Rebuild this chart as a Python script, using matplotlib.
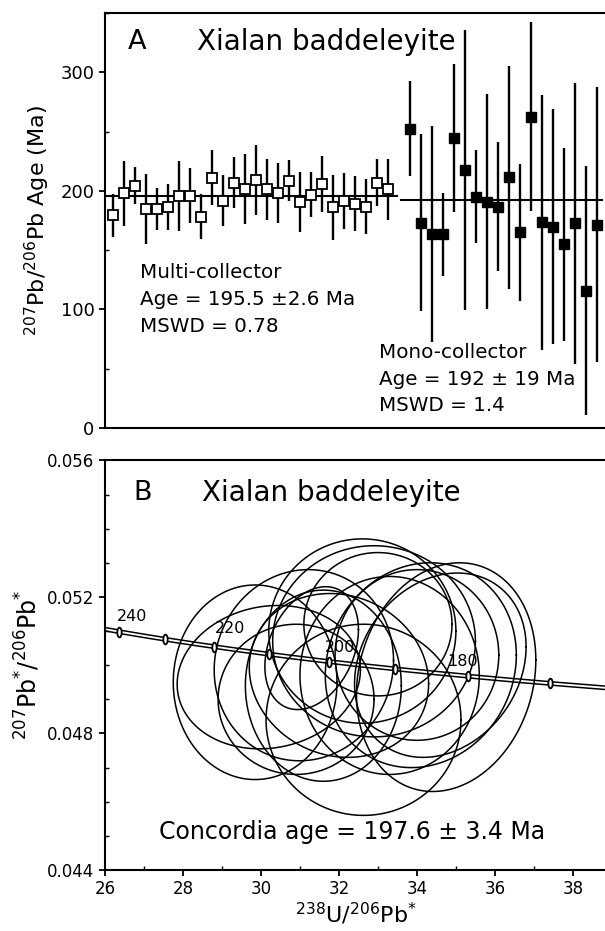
import numpy as np
import matplotlib
matplotlib.use("Agg")
import matplotlib.pyplot as plt
from matplotlib.ticker import MultipleLocator
from matplotlib.markers import MarkerStyle
from matplotlib.transforms import Affine2D

plt.rcParams['font.family'] = ['DejaVu Sans']
plt.rcParams['mathtext.fontset'] = 'dejavusans'

# ---- panel A data: 207Pb/206Pb ages (Ma) with 2s errors ----
multi_x = list(range(1, 27))
multi_age = [179.5, 198.1, 204.2, 185.1, 184.5, 186.5, 196.0, 196.0, 178.3, 211.2,
             191.8, 207.0, 201.4, 209.3, 201.4, 198.1, 208.4, 191.0, 196.9, 205.6,
             186.2, 191.8, 189.0, 186.7, 207.0, 201.4]
multi_err = [18, 27.5, 15.6, 29.5, 17.6, 19.5, 29.5, 23.5, 19.3, 23.4,
             21.5, 21.4, 29.5, 29.5, 25.6, 25.3, 17.3, 25.3, 19.3, 23.4,
             27.5, 23.6, 23.2, 23.5, 19.7, 25.6]
mono_x = list(range(28, 46))
mono_age = [252.6, 173.3, 163.4, 163.4, 244.4, 217.7, 195.2, 191.0, 186.8, 211.6,
            165.1, 262.7, 173.6, 169.9, 155.0, 172.7, 115.6, 171.3]
mono_err = [40, 75, 91, 35, 62.5, 118, 39, 91, 54.6, 94,
            57.7, 80, 107.6, 99.3, 81.3, 118.7, 105, 116]
multi_mean = 195.5
mono_mean = 192

# ---- panel B data: ellipses (centre, half widths, correlation) ----
ell_x = [29.85, 30.20, 31.10, 32.63, 32.60, 32.90, 34.75, 34.10,
         34.00, 34.60, 33.30, 32.00, 31.60, 33.00, 31.30, 30.90]
ell_y = [0.04950, 0.04965, 0.05000, 0.04840, 0.05100, 0.05070, 0.04965, 0.05000,
         0.05030, 0.05000, 0.04970, 0.04970, 0.04940, 0.05120, 0.05050, 0.04900]
ell_sx = [2.10, 2.35, 2.30, 2.50, 2.40, 2.60, 2.30, 2.45,
          2.10, 2.20, 2.30, 2.30, 2.00, 1.90, 1.20, 2.00]
ell_sy = [0.00285, 0.00210, 0.00280, 0.00280, 0.00270, 0.00280, 0.00335, 0.00300,
          0.00250, 0.00270, 0.00290, 0.00240, 0.00280, 0.00210, 0.00180, 0.00220]
ell_rho = [0.0, 0.1, 0.05, 0.0, 0.0, 0.0, 0.15, 0.1,
           0.0, 0.2, 0.0, -0.1, 0.0, 0.0, 0.3, 0.0]
tick_ages = [170, 180, 190, 200, 210, 220, 230, 240]
label_ages = ['240', '220', '200', '180']
label_x = [26.70, 29.20, 32.03, 35.17]
label_y = [0.05143, 0.05107, 0.05053, 0.05012]

l238 = 1.55125e-4   # per Ma
l235 = 9.8485e-4
U85 = 137.88


def concordia(t):
    e8 = np.exp(l238 * t) - 1
    e5 = np.exp(l235 * t) - 1
    return 1 / e8, e5 / e8 / U85


fig = plt.figure(figsize=(6.05, 9.31), dpi=100)
axA = fig.add_axes([0.1736, 0.5403, 0.83, 0.4457])
axB = fig.add_axes([0.1736, 0.0655, 0.83, 0.44])

for ax in (axA, axB):
    ax.spines['right'].set_visible(False)
    for s in ('left', 'bottom', 'top'):
        ax.spines[s].set_linewidth(1.5)
    ax.tick_params(which='major', direction='out', length=4, width=1.3, labelsize=13)
    ax.tick_params(which='minor', direction='in', length=3, width=1.0)

# ---- panel A ----
axA.errorbar(multi_x, multi_age, yerr=multi_err, fmt='s', ms=6.8, mfc='white',
             mec='black', mew=1.3, ecolor='black', elinewidth=1.7, capsize=0, zorder=3)
axA.errorbar(mono_x, mono_age, yerr=mono_err, fmt='s', ms=7.2, mfc='black',
             mec='black', ecolor='black', elinewidth=1.7, capsize=0, zorder=3)
axA.plot([0.27, 26.8], [multi_mean, multi_mean], color='black', lw=1.5, zorder=2)
axA.plot([27.2, 45.5], [mono_mean, mono_mean], color='black', lw=1.5, zorder=2)
axA.set_xlim(0.27, 45.97)
axA.set_ylim(0, 350)
axA.set_xticks([])
axA.yaxis.set_major_locator(MultipleLocator(100))
axA.yaxis.set_minor_locator(MultipleLocator(50))
axA.set_ylabel('$^{207}$Pb/$^{206}$Pb Age (Ma)', fontsize=16, labelpad=6)
axA.text(0.045, 0.93, 'A', transform=axA.transAxes, fontsize=19.5, va='center')
axA.text(0.183, 0.93, 'Xialan baddeleyite', transform=axA.transAxes, fontsize=20, va='center')
axA.text(0.07, 0.31, 'Multi-collector\nAge = 195.5 \u00b12.6 Ma\nMSWD = 0.78',
         transform=axA.transAxes, fontsize=14.3, va='center', linespacing=1.55)
axA.text(0.545, 0.118, 'Mono-collector\nAge = 192 \u00b1 19 Ma\nMSWD = 1.4',
         transform=axA.transAxes, fontsize=14.3, va='center', linespacing=1.5)

# ---- panel B ----
ages = np.linspace(140, 260, 400)
cx, cy = concordia(ages)
axB.plot(cx, cy + 0.00005, color='black', lw=1.1)
axB.plot(cx, cy - 0.00005, color='black', lw=1.1)
tx, ty = concordia(np.array(tick_ages, dtype=float))
tick_mark = MarkerStyle('o', transform=Affine2D().scale(0.45, 1.0))
axB.plot(tx, ty, ls='none', marker=tick_mark, ms=7, mew=1.3, mfc='white',
         mec='black', zorder=4)
for s, lx, ly in zip(label_ages, label_x, label_y):
    axB.text(lx, ly, s, fontsize=11.5, ha='center', va='center')

t = np.linspace(0, 2 * np.pi, 300)
for x0, y0, sx, sy, r in zip(ell_x, ell_y, ell_sx, ell_sy, ell_rho):
    ex = x0 + sx * np.cos(t)
    ey = y0 + sy * (r * np.cos(t) + np.sqrt(1 - r * r) * np.sin(t))
    axB.plot(ex, ey, color='black', lw=1.1)

axB.set_xlim(26, 38.88)
axB.set_ylim(0.044, 0.056)
axB.xaxis.set_major_locator(MultipleLocator(2))
axB.xaxis.set_minor_locator(MultipleLocator(1))
axB.yaxis.set_major_locator(MultipleLocator(0.004))
axB.yaxis.set_minor_locator(MultipleLocator(0.001))
axB.yaxis.set_major_formatter(plt.FuncFormatter(lambda v, p: '%.3f' % v))
axB.tick_params(axis='both', labelsize=12)
axB.set_xlabel('$^{238}$U/$^{206}$Pb$^{*}$', fontsize=16, labelpad=2)
axB.set_ylabel('$^{207}$Pb$^{*}$/$^{206}$Pb$^{*}$', fontsize=17, labelpad=4)
axB.text(0.057, 0.92, 'B', transform=axB.transAxes, fontsize=19.5, va='center')
axB.text(0.193, 0.92, 'Xialan baddeleyite', transform=axB.transAxes, fontsize=20, va='center')
axB.text(0.492, 0.093, 'Concordia age = 197.6 \u00b1 3.4 Ma', transform=axB.transAxes,
         fontsize=17, ha='center', va='center')

fig.savefig('out.png', dpi=100)
